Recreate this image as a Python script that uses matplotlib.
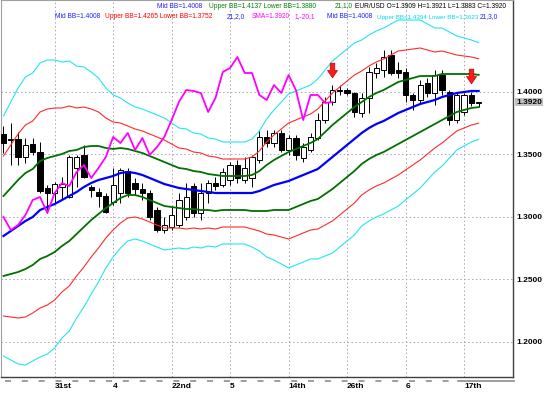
import matplotlib
matplotlib.use("Agg")
import matplotlib.pyplot as plt
import matplotlib.transforms as mtransforms
from matplotlib.path import Path
from matplotlib.lines import Line2D
import numpy as np

# EUR/USD candles
opens = [1.3664, 1.3624, 1.3624, 1.3480, 1.3584, 1.3520, 1.3232, 1.3192, 1.3240, 1.3160,
         1.3392, 1.3496, 1.3240, 1.3200, 1.3168, 1.3120, 1.3192, 1.3368, 1.3272, 1.3224,
         1.3192, 1.3056, 1.2896, 1.2920, 1.2936, 1.3000, 1.3248, 1.3032, 1.3192, 1.3272,
         1.3256, 1.3296, 1.3416, 1.3296, 1.3312, 1.3456, 1.3640, 1.3592, 1.3672, 1.3536,
         1.3632, 1.3472, 1.3536, 1.3632, 1.3776, 1.3920, 1.4016, 1.4016, 1.3992, 1.3832,
         1.3952, 1.4152, 1.4176, 1.4296, 1.4176, 1.4160, 1.3976, 1.3936, 1.4072, 1.3992,
         1.4136, 1.4000, 1.3776, 1.3840, 1.3976, 1.3909]
highs = [1.3728, 1.3752, 1.3680, 1.3632, 1.3632, 1.3600, 1.3256, 1.3280, 1.3320, 1.3496,
         1.3496, 1.3576, 1.3256, 1.3232, 1.3192, 1.3392, 1.3392, 1.3392, 1.3312, 1.3272,
         1.3216, 1.3080, 1.3000, 1.3080, 1.3192, 1.3272, 1.3272, 1.3272, 1.3296, 1.3320,
         1.3392, 1.3440, 1.3456, 1.3480, 1.3496, 1.3696, 1.3696, 1.3696, 1.3696, 1.3656,
         1.3656, 1.3592, 1.3672, 1.3832, 1.3960, 1.4056, 1.4056, 1.4032, 1.4000, 1.3992,
         1.4200, 1.4232, 1.4336, 1.4336, 1.4240, 1.4192, 1.3992, 1.4096, 1.4112, 1.4176,
         1.4176, 1.4016, 1.3992, 1.3992, 1.4000, 1.3921]
lows = [1.3512, 1.3416, 1.3416, 1.3432, 1.3496, 1.3192, 1.3032, 1.3112, 1.3136, 1.3152,
        1.3240, 1.3312, 1.3160, 1.3080, 1.3032, 1.3096, 1.3112, 1.3160, 1.3176, 1.3136,
        1.2976, 1.2880, 1.2872, 1.2896, 1.2920, 1.2976, 1.3000, 1.2976, 1.3112, 1.3216,
        1.3240, 1.3256, 1.3272, 1.3272, 1.3240, 1.3432, 1.3560, 1.3560, 1.3520, 1.3496,
        1.3456, 1.3440, 1.3520, 1.3616, 1.3752, 1.3896, 1.3976, 1.3976, 1.3800, 1.3800,
        1.3832, 1.4112, 1.4120, 1.4136, 1.4112, 1.3920, 1.3856, 1.3912, 1.3960, 1.3896,
        1.3976, 1.3736, 1.3752, 1.3816, 1.3888, 1.3883]
closes = [1.3592, 1.3616, 1.3480, 1.3576, 1.3520, 1.3208, 1.3192, 1.3264, 1.3264, 1.3480,
          1.3480, 1.3320, 1.3216, 1.3168, 1.3040, 1.3256, 1.3376, 1.3192, 1.3224, 1.3192,
          1.3000, 1.2896, 1.2936, 1.3016, 1.3136, 1.3160, 1.3032, 1.3192, 1.3272, 1.3248,
          1.3360, 1.3416, 1.3312, 1.3392, 1.3480, 1.3640, 1.3592, 1.3672, 1.3536, 1.3632,
          1.3496, 1.3560, 1.3640, 1.3776, 1.3920, 1.4016, 1.4008, 1.3992, 1.3840, 1.3952,
          1.4160, 1.4192, 1.4280, 1.4152, 1.4152, 1.3976, 1.3936, 1.4056, 1.3992, 1.4136,
          1.4016, 1.3776, 1.3976, 1.3976, 1.3912, 1.3920]

# Bollinger middle line and band width (1 sd)
bb_mid = [1.2848, 1.2888, 1.2928, 1.2968, 1.3000, 1.3056, 1.3080, 1.3104, 1.3136, 1.3168,
          1.3200, 1.3240, 1.3272, 1.3296, 1.3312, 1.3328, 1.3352, 1.3360, 1.3352, 1.3336,
          1.3312, 1.3288, 1.3264, 1.3248, 1.3232, 1.3224, 1.3216, 1.3208, 1.3200, 1.3192,
          1.3192, 1.3192, 1.3192, 1.3192, 1.3192, 1.3208, 1.3232, 1.3256, 1.3272, 1.3288,
          1.3312, 1.3336, 1.3360, 1.3384, 1.3432, 1.3480, 1.3528, 1.3576, 1.3624, 1.3672,
          1.3712, 1.3744, 1.3768, 1.3800, 1.3832, 1.3856, 1.3880, 1.3904, 1.3920, 1.3936,
          1.3960, 1.3976, 1.3992, 1.4000, 1.4008, 1.4008]
bb_sd = [0.0320, 0.0344, 0.0368, 0.0384, 0.0384, 0.0392, 0.0392, 0.0384, 0.0368, 0.0360,
         0.0336, 0.0320, 0.0296, 0.0272, 0.0240, 0.0216, 0.0200, 0.0184, 0.0176, 0.0176,
         0.0176, 0.0176, 0.0176, 0.0168, 0.0160, 0.0160, 0.0152, 0.0152, 0.0144, 0.0144,
         0.0136, 0.0136, 0.0136, 0.0136, 0.0144, 0.0160, 0.0184, 0.0200, 0.0216, 0.0232,
         0.0232, 0.0232, 0.0232, 0.0240, 0.0248, 0.0256, 0.0256, 0.0256, 0.0256, 0.0248,
         0.0248, 0.0248, 0.0248, 0.0248, 0.0248, 0.0240, 0.0232, 0.0224, 0.0208, 0.0192,
         0.0184, 0.0168, 0.0152, 0.0144, 0.0136, 0.0129]

sma_shift = 20  # SMA(1) shifted -20 bars
arrow_bars = [45, 64]
arrow_prices = [1.4176, 1.4124]
date_labels = ["31st", "4", "22nd", "5", "14th", "26th", "6", "17th"]
date_bars = [7, 15, 23, 31, 39, 47, 55, 63]
price_ticks = [1.20, 1.25, 1.30, 1.35, 1.40]
last_price = 1.3920

W, H = 550, 394
fig = plt.figure(figsize=(W / 100, H / 100), dpi=100)
fig.patch.set_facecolor("white")
ax = fig.add_axes([1 / W, 17 / H, 512 / W, 377 / H])

n = len(closes)
x = np.arange(n)
o = np.array(opens); c = np.array(closes)
up = c >= o

# candles
ax.vlines(x, lows, highs, color="black", lw=0.7, zorder=2)
body_lo = np.minimum(o, c)
body_h = np.maximum(np.abs(c - o), 0.0002)
ax.bar(x[up], body_h[up], bottom=body_lo[up], width=0.72, facecolor="white",
       edgecolor="black", lw=0.7, zorder=3)
ax.bar(x[~up], body_h[~up], bottom=body_lo[~up], width=0.72, facecolor="black",
       edgecolor="black", lw=0.7, zorder=3)

# bollinger bands 21,1 / 21,2 / 21,3
mid = np.array(bb_mid); sd = np.array(bb_sd)
band_styles = [(3, "#22e6ee", 0.8), (2, "#ff2a2a", 0.8), (1, "#007000", 1.3)]
for k, col, lw in band_styles:
    ax.plot(x, mid + k * sd, color=col, lw=lw, zorder=4)
    ax.plot(x, mid - k * sd, color=col, lw=lw, zorder=4)
ax.plot(x, mid, color="#0000ff", lw=1.6, zorder=5)

# lagging SMA line
ax.plot(x[:n - sma_shift], closes[sma_shift:], color="#ff00ff", lw=1.3, zorder=5)

# sell arrows
arrow = Path([(-2.5, 8), (2.5, 8), (2.5, 0), (5.5, 0), (0, -8), (-5.5, 0), (-2.5, 0), (-2.5, 8)],
             [Path.MOVETO] + [Path.LINETO] * 6 + [Path.CLOSEPOLY])
ax.plot(arrow_bars, arrow_prices, ls="none", marker=arrow, markersize=10.5,
        markerfacecolor="#ff1a1a", markeredgecolor="#c00000", markeredgewidth=0.5, zorder=6)

ax.set_xlim(-0.34, 69.7)
ax.set_ylim(1.1720, 1.4736)

ax.yaxis.tick_right()
ax.set_yticks(price_ticks)
ax.set_yticklabels([f"{p:.4f}" for p in price_ticks])
ax.set_xticks(date_bars)
ax.set_xticklabels(date_labels)
for lab in ax.get_xticklabels():
    lab.set_horizontalalignment("left")
ax.tick_params(axis="both", length=0, labelsize=6, colors="black")
ax.tick_params(axis="y", pad=2.5)
ax.tick_params(axis="x", pad=4)
for lab in ax.get_xticklabels() + ax.get_yticklabels():
    lab.set_fontfamily("Liberation Sans")
    lab.set_fontweight("bold")
ax.grid(True, color="#a8a4b8", lw=0.7, ls=(0, (1.5, 2.5)))
ax.set_axisbelow(True)
for s in ["left", "top"]:
    ax.spines[s].set_color("#a0a0a0")
    ax.spines[s].set_linewidth(0.8)
for s in ["right", "bottom"]:
    ax.spines[s].set_color("#404040")
    ax.spines[s].set_linewidth(1.0)

# current price label
trans = mtransforms.blended_transform_factory(ax.transAxes, ax.transData)
ax.text(1.006, last_price, f"{last_price:.4f}", transform=trans, fontsize=6,
        fontfamily="Liberation Sans", fontweight="bold", va="center", ha="left",
        bbox=dict(facecolor="#c4c4c4", edgecolor="none", pad=0.4), clip_on=False)

# header (indicator values): text, colour, left px, room right px, row px
header = [
    ("Mid BB=1.4008", "#2020ff", 157, 206, 6),
    ("Upper BB=1.4137 Lower BB=1.3880", "#008000", 209, 332, 6),
    ("21,1,0", "#008000", 335, 353, 6),
    ("EUR/USD O=1.3909 H=1.3921 L=1.3883 C=1.3920", "black", 355, 516, 6),
    ("Mid BB=1.4008", "#2020ff", 55, 103, 17),
    ("Upper BB=1.4265 Lower BB=1.3752", "#ff0000", 105, 224, 17),
    ("21,2,0", "#2020ff", 227, 250, 17),
    ("SMA=1.3920", "#ff00ff", 252, 292, 17),
    ("1,-20,1", "#ff00ff", 295, 324, 17),
    ("Mid BB=1.4008", "#2020ff", 327, 375, 17),
    ("Upper BB=1.4394 Lower BB=1.3623", "#00d8e8", 377, 477, 17),
    ("21,3,0", "#2020ff", 480, 505, 17),
]
head_texts = []
for txt, col, x0, x1, py in header:
    t = fig.text(x0 / W, 1 - py / H, txt, color=col, fontsize=4.8,
                 fontfamily="Liberation Sans", va="center", ha="left")
    head_texts.append(t)
fig.canvas.draw()
rend = fig.canvas.get_renderer()
for t, (txt, col, x0, x1, py) in zip(head_texts, header):
    w = t.get_window_extent(rend).width
    if w > x1 - x0:
        t.set_fontsize(t.get_fontsize() * (x1 - x0) / w)

# time-axis dash strip under the chart
fig.add_artist(Line2D([5 / W, 458 / W], [1 - 381 / H] * 2, color="#8c8c8c", lw=1.2,
                      ls=(0, (3.6, 6.5))))
fig.add_artist(Line2D([458 / W, 514 / W], [1 - 381 / H] * 2, color="#8c8c8c", lw=1.2))

fig.savefig("out.png", dpi=100, facecolor="white")
